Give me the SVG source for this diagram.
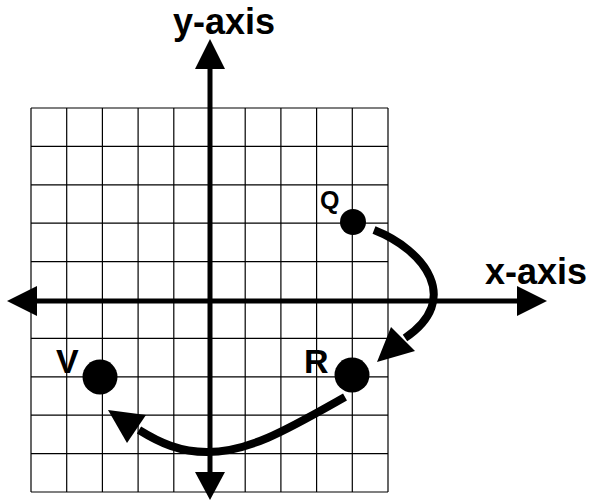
<svg xmlns="http://www.w3.org/2000/svg" width="595" height="502" viewBox="0 0 595 502">
<style>
.grid line{stroke:#000;stroke-width:1.2}
.axis{stroke:#000;stroke-width:5;fill:none}
.curve{stroke:#000;stroke-width:8;fill:none}
.head{fill:#000}
.lbl{font-family:"Liberation Sans",Arial,sans-serif;font-weight:bold;fill:#000}
.dot{fill:#000}
</style>
<rect width="595" height="502" fill="#fff"/>
<g id="grid" class="grid">
<line x1="31" y1="108" x2="31" y2="492"/>
<line x1="66.7" y1="108" x2="66.7" y2="492"/>
<line x1="102.4" y1="108" x2="102.4" y2="492"/>
<line x1="138.1" y1="108" x2="138.1" y2="492"/>
<line x1="173.8" y1="108" x2="173.8" y2="492"/>
<line x1="245.2" y1="108" x2="245.2" y2="492"/>
<line x1="280.9" y1="108" x2="280.9" y2="492"/>
<line x1="316.6" y1="108" x2="316.6" y2="492"/>
<line x1="352.3" y1="108" x2="352.3" y2="492"/>
<line x1="388" y1="108" x2="388" y2="492"/>
<line x1="31" y1="108" x2="388" y2="108"/>
<line x1="31" y1="146.4" x2="388" y2="146.4"/>
<line x1="31" y1="184.8" x2="388" y2="184.8"/>
<line x1="31" y1="223.2" x2="388" y2="223.2"/>
<line x1="31" y1="261.6" x2="388" y2="261.6"/>
<line x1="31" y1="338.4" x2="388" y2="338.4"/>
<line x1="31" y1="376.8" x2="388" y2="376.8"/>
<line x1="31" y1="415.2" x2="388" y2="415.2"/>
<line x1="31" y1="453.6" x2="388" y2="453.6"/>
<line x1="31" y1="492" x2="388" y2="492"/>
</g>
<g id="axes">
<line class="axis" x1="210" y1="66" x2="210" y2="476"/>
<polygon class="head" points="210,39 195,69 225,69"/>
<polygon class="head" points="210,500 195,472 225,472"/>
<line class="axis" x1="34" y1="301" x2="520" y2="301"/>
<polygon class="head" points="7,301 37,286 37,316"/>
<polygon class="head" points="547,301 517,286 517,316"/>
<text class="lbl" x="173" y="34" font-size="36">y-axis</text>
<text class="lbl" x="485" y="284" font-size="36">x-axis</text>
</g>
<g id="connectors">
<path class="curve" d="M374,230 C425,250 462,300 405,338"/>
<polygon class="head" points="377,362 391,327 415,351"/>
<path class="curve" d="M345,397 C290,428 250,452 207,452 C180,452 160,443 139,430"/>
<polygon class="head" points="108,410 146,415 127,443"/>
</g>
<g id="Q">
<circle class="dot" cx="353" cy="222" r="13"/>
<text class="lbl" x="320" y="209" font-size="25">Q</text>
</g>
<g id="R">
<circle class="dot" cx="352" cy="375" r="17.5"/>
<text class="lbl" x="304" y="373" font-size="34">R</text>
</g>
<g id="V">
<circle class="dot" cx="100" cy="377" r="17.5"/>
<text class="lbl" x="56" y="373" font-size="34">V</text>
</g>
</svg>
